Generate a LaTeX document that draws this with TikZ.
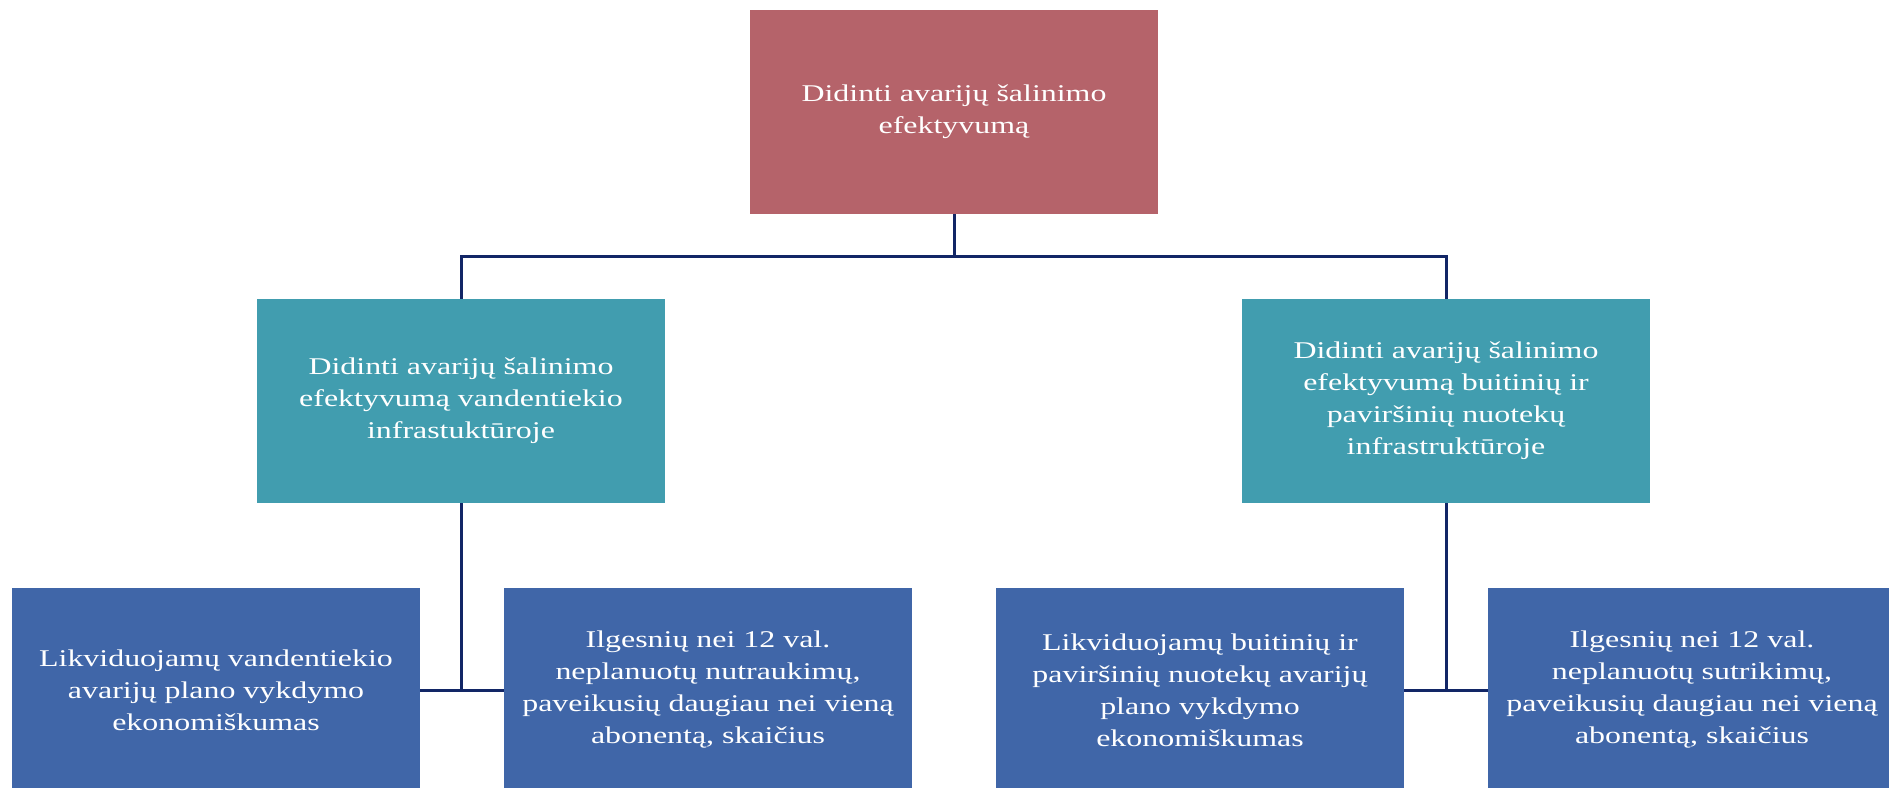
\documentclass[tikz,border=0pt]{standalone}
\usepackage{fontspec}
\newfontfamily\boxfont[FakeStretch=1.33]{Liberation Serif}
\definecolor{goalred}{RGB}{181,99,106}
\definecolor{areateal}{RGB}{65,157,175}
\definecolor{kpiblue}{RGB}{64,102,168}
\definecolor{linknavy}{RGB}{18,38,102}

\begin{document}
\begin{tikzpicture}[x=1pt, y=-1pt,
    box/.style={minimum width=408pt, minimum height=204pt, inner sep=0pt,
      align=center, text=white, font=\boxfont\fontsize{24pt}{32pt}\selectfont},
    link/.style={draw=linknavy, line width=3pt}]
  \useasboundingbox (0,0) rectangle (1889,787);
  \clip (0,0) rectangle (1889,787);
  % top level
  \node[box, fill=goalred] (goal) at (954,112) {Didinti avarijų šalinimo\\efektyvumą};
  % middle level
  \node[box, fill=areateal] (water) at (461,401) {Didinti avarijų šalinimo\\efektyvumą vandentiekio\\infrastuktūroje};
  \node[box, fill=areateal] (sewer) at (1446,401) {Didinti avarijų šalinimo\\efektyvumą buitinių ir\\paviršinių nuotekų\\infrastruktūroje};
  % bottom level
  \node[box, fill=kpiblue] (waterecon) at (216,690) {Likviduojamų vandentiekio\\avarijų plano vykdymo\\ekonomiškumas};
  \node[box, fill=kpiblue] (waterstop) at (708,690) {Ilgesnių nei 12 val.\\neplanuotų nutraukimų,\\paveikusių daugiau nei vieną\\abonentą, skaičius};
  \node[box, fill=kpiblue] (sewerecon) at (1200,690) {Likviduojamų buitinių ir\\paviršinių nuotekų avarijų\\plano vykdymo\\ekonomiškumas};
  \node[box, fill=kpiblue] (sewerstop) at (1692,690) {Ilgesnių nei 12 val.\\neplanuotų sutrikimų,\\paveikusių daugiau nei vieną\\abonentą, skaičius};
  % connectors
  \coordinate (bus) at (954,256);
  \draw[link] (goal.south) -- (bus) -| (water.north);
  \draw[link] (bus) -| (sewer.north);
  \draw[link] (water.south) |- (waterecon.east);
  \draw[link] (water.south) |- (waterstop.west);
  \draw[link] (sewer.south) |- (sewerecon.east);
  \draw[link] (sewer.south) |- (sewerstop.west);
\end{tikzpicture}
\end{document}
